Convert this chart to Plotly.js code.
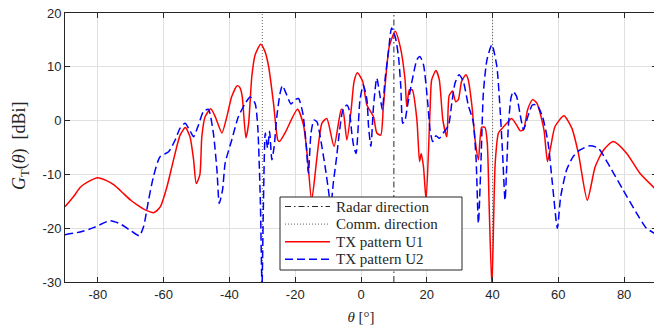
<!DOCTYPE html>
<html>
<head>
<meta charset="utf-8">
<script src="https://cdn.plot.ly/plotly-3.0.1.min.js"></script>
<style>
html,body{margin:0;padding:0;overflow:hidden;background:#fff;}
#chart{width:657px;height:331px;}
</style>
</head>
<body>
<div id="chart"></div>
<script>
// ---- data ----
const radarDirection = 10;
const commDirections = [-30, 40];

const thetaU1 = [-90,-87.5,-85.2,-82.5,-80.1,-77.5,-75,-72.5,-70,-67.5,-65.9,-62.9,-61,-59,-57,-55,-53.4,-52,-50.9,-50.1,-49,-48.4,-47.4,-45.7,-44.3,-42.3,-40.8,-39.3,-37.6,-36.7,-36.1,-35,-34.2,-33.2,-32.2,-30.5,-29.3,-28.1,-26.6,-25.3,-24.8,-23.1,-19.3,-17.5,-16.2,-15,-11.9,-10.4,-8.2,-6,-5.5,-4.3,-3,-2.1,-1.1,0.5,1.8,3.8,4.8,6,6.8,8.6,10.4,11.9,13.4,13.9,14.7,15.6,17,17.8,18.3,19,19.8,21,21.5,22.8,23.8,24.9,26.1,26.8,27.8,28.8,29.6,30.6,31.9,32.6,33.7,34.7,35.7,36.7,37.7,38.4,39,39.8,40.8,41.8,43,44.3,45.8,47.3,48.4,49.4,50.7,52.2,53.5,55,55.7,56.7,57.7,59,61.7,64.1,66.1,68.8,71.2,73.7,76.7,80.8,84.8,90];
const gainU1 = [-16,-14.2,-12.3,-11.2,-10.6,-11.1,-12,-13.4,-14.8,-15.9,-16.5,-17.1,-16,-12.3,-7.3,-2.7,-1.3,-3,-7.3,-11.7,-10.1,-3,0.7,2.2,0.7,-2.3,0.7,4.5,6.5,6,4.4,-3.2,-0.7,8.2,12.2,14.2,13,10.1,3.2,-3.6,-3.9,-2.3,2.1,-0.8,-7.3,-14.8,-0.5,0.4,-4.8,2.1,2,-3.6,2,7.3,8.9,7.3,2.9,0.7,-2.3,-2.7,2.6,13.8,16.6,13.8,7.6,2.6,5.7,5.7,0.1,-7.6,-6.1,-8.6,-14.8,2,7.6,9.3,7.6,0.1,-3,4.6,5.5,3.5,3.9,7.3,8.5,7.6,2.9,-3.6,-7.3,-1.2,-1.3,-4.2,-16.6,-31,-7.9,-2.3,-1.4,-0.5,0.4,-0.8,-1.9,-1.7,2.1,3.9,3.2,0.1,-2,-7.6,-4.8,-1.1,0.9,-1.4,-6.1,-14.8,-8.6,-5.5,-3.9,-6.1,-9.8,-13];

const thetaU2 = [-90,-85.4,-81.3,-76.3,-73.2,-70.2,-67.4,-66.1,-64.6,-63.1,-61.1,-58.5,-56.5,-55,-53.5,-51.9,-50.9,-49.4,-47.9,-46.4,-44.9,-43.8,-43.1,-42.1,-41.3,-39.3,-37.3,-35.2,-33.7,-32.2,-31.4,-30.6,-30.1,-29.7,-29.1,-28.4,-27.8,-27.1,-26.4,-25.6,-24.6,-23.9,-22.6,-21.3,-20,-19,-17.7,-16.7,-16,-15.2,-14.3,-13.4,-12.4,-10.9,-9.9,-9.2,-8.4,-7.4,-6.6,-5.5,-4.3,-3.6,-2.8,-2.3,-1.5,-0.3,0.7,1.8,2.3,3,3.8,4.8,5.8,6.5,7.3,8.3,9.3,10.4,11.4,12.1,12.7,13.4,14.1,15.4,17,17.9,19,20.2,21,21.8,22.8,23.8,25,26.6,27.6,28.6,29.8,31.1,32.6,34.1,35,35.7,36.5,37.2,38.3,39.8,41.3,42.3,43,43.8,44.3,44.8,45.6,46.3,47.3,48.4,49.4,50.7,52.1,53.5,55.2,56.9,58.2,59.7,60.7,62.5,64.5,66.5,69.4,72.1,75.7,79.7,83.8,86.8,90];
const gainU2 = [-21.2,-20.7,-19.9,-18.6,-19.2,-20.4,-21.4,-19.7,-14.8,-10.4,-6.7,-5.8,-3.6,-1.4,-0.5,-2,-3,-0.8,1.7,2.1,-2.3,-9.2,-15.4,-12.9,-7.9,-3.6,0.7,3.2,4.4,3.2,-1.1,-15,-31,-16.6,-2.3,-5.1,-2,-7.3,-4.8,0.7,5.1,6.5,4.8,3.1,3.9,4.1,1.4,-4.2,-9.8,-2.3,0.1,-0.2,-3,-8.6,-12.9,-16,-11.5,-6.7,-2.3,2,2.9,2,-2.3,-4.5,-6.1,3.9,6.6,3.9,-1.1,-4.8,2.6,7.9,4.5,2,7.6,12.6,17.2,15.6,11.9,6.3,-0.5,0.1,2.6,7,11.3,11.9,10.4,3.9,-1.7,-3.9,-2.8,-3.3,-2.3,-0.9,3.2,7,8.5,7.3,2.9,-0.2,-7.3,-19.1,-7.3,5.1,11.3,14.1,10.1,2,-5.5,-14.8,-8.6,-1.1,4.2,5.4,4.5,1.1,-1.7,0.7,2.9,2.9,0.7,-4.2,-11.7,-20,-14.2,-9.2,-6.7,-5.5,-4.7,-5.1,-8.6,-12.9,-17.2,-20,-21.2];

const seriesNames = ['Radar direction', 'Comm. direction', 'TX pattern U1', 'TX pattern U2'];
const xTicks = [-80,-60,-40,-20,0,20,40,60,80];
const yTicks = [-30,-20,-10,0,10,20];
const xRange = [-90, 90];
const yRange = [-30, 20];
const yTitle = '<i>G</i><sub>T</sub>(<i>θ</i>)&nbsp; [dBi]';
const xTitle = '<i>θ</i> [°]';

// ---- styles ----
const lineStyles = [
  {color:'#262626', width:1, dash:'6px,3px,1.5px,3px'},
  {color:'#666666', width:1, dash:'1px,2px'},
  {color:'#ff0000', width:1.5},
  {color:'#0000ff', width:1.5, dash:'8px,4px'}
];

// ---- build traces ----
const commX = [], commY = [];
commDirections.forEach((d, i) => {
  if (i > 0) { commX.push(null); commY.push(null); }
  commX.push(d, d); commY.push(yRange[0], yRange[1]);
});

const traces = [
  {x:[radarDirection, radarDirection], y:[yRange[0], yRange[1]], mode:'lines', name:seriesNames[0],
   line:lineStyles[0], showlegend:false},
  {x:commX, y:commY, mode:'lines', name:seriesNames[1], connectgaps:false,
   line:lineStyles[1], showlegend:false},
  {x:thetaU1, y:gainU1, mode:'lines', name:seriesNames[2],
   line:Object.assign({shape:'spline', smoothing:0.6}, lineStyles[2]), showlegend:false},
  {x:thetaU2, y:gainU2, mode:'lines', name:seriesNames[3],
   line:Object.assign({shape:'spline', smoothing:0.6}, lineStyles[3]), showlegend:false}
];

const SERIF = "'Liberation Serif', 'Times New Roman', serif";
const SANS = "'Liberation Sans', Arial, sans-serif";

// ---- legend box (drawn in paper coordinates, MATLAB-like compact legend) ----
const plotL = 65, plotR = 657, plotT = 13, plotB = 282;
const px2x = p => (p - plotL) / (plotR - plotL);
const px2y = p => 1 - (p - plotT) / (plotB - plotT);
const legBox = {l:280, r:462, t:197, b:270};
const rowY0 = 206.5, rowStep = 17.6;
const shapes = [{type:'rect', xref:'paper', yref:'paper',
  x0:px2x(legBox.l), x1:px2x(legBox.r), y0:px2y(legBox.b), y1:px2y(legBox.t),
  fillcolor:'#ffffff', line:{color:'#262626', width:1}, layer:'above'}];
const annotations = [];
seriesNames.forEach((nm, i) => {
  const yy = px2y(rowY0 + i * rowStep);
  shapes.push({type:'line', xref:'paper', yref:'paper', x0:px2x(285), x1:px2x(330), y0:yy, y1:yy,
    line:{color:lineStyles[i].color, width:lineStyles[i].width, dash:lineStyles[i].dash || 'solid'}, layer:'above'});
  annotations.push({xref:'paper', yref:'paper', x:px2x(334), y:yy, xanchor:'left', yanchor:'middle',
    text:nm, showarrow:false, font:{family:SERIF, size:15, color:'#262626'}});
});
// y-axis title as a rotated annotation (precise placement)
annotations.push({xref:'paper', yref:'paper', x:px2x(21), y:px2y(146), xanchor:'center', yanchor:'middle',
  textangle:-90, text:yTitle, showarrow:false, font:{family:SERIF, size:18, color:'#262626'}});

const axisCommon = {
  showline:true, mirror:'ticks', linecolor:'#262626', linewidth:1,
  ticks:'inside', ticklen:5, tickwidth:1, tickcolor:'#262626',
  showgrid:true, gridcolor:'#e0e0e0', gridwidth:1, zeroline:false,
  tickfont:{family:SANS, size:13, color:'#262626'}
};

const layout = {
  width:657, height:331,
  margin:{l:plotL, r:657 - plotR, t:plotT, b:331 - plotB},
  paper_bgcolor:'#ffffff', plot_bgcolor:'#ffffff',
  showlegend:false,
  shapes:shapes, annotations:annotations,
  xaxis:Object.assign({}, axisCommon, {
    range:xRange, tickvals:xTicks, ticktext:xTicks.map(String),
    title:{text:xTitle, font:{family:SERIF, size:15, color:'#262626'}, standoff:10}
  }),
  yaxis:Object.assign({}, axisCommon, {
    range:yRange, tickvals:yTicks, ticktext:yTicks.map(String)
  })
};

Plotly.newPlot('chart', traces, layout, {displayModeBar:false, staticPlot:true});
</script>
</body>
</html>
